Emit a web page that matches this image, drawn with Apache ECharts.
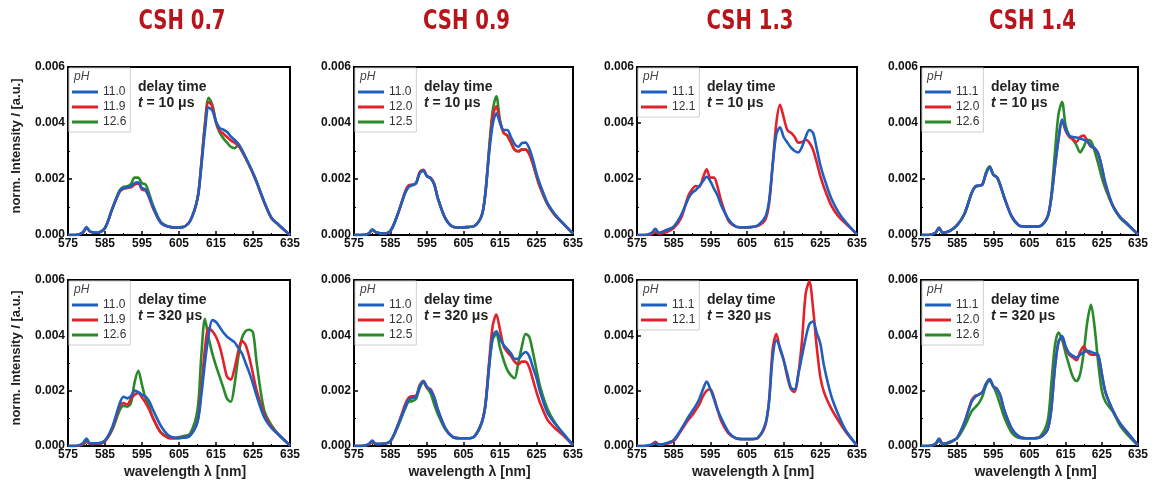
<!DOCTYPE html>
<html>
<head>
<meta charset="utf-8">
<title>CSH spectra</title>
<script src="https://cdn.jsdelivr.net/npm/echarts@6/dist/echarts.min.js"></script>
<style>
  html, body { margin: 0; padding: 0; background: #fff; }
  #chart { width: 1157px; height: 486px; }
</style>
</head>
<body>
<div id="chart"></div>
<script>
// wavelength grid (nm), intensities below are in units of 1e-3
const wavelength = [575, 577, 579, 580, 581, 583, 585,
  587, 589, 590, 591, 592, 593, 594, 595, 596, 597, 598,
  600, 602, 604, 606, 608,
  610, 611, 612, 613, 614, 615, 616, 617, 618, 619,
  620, 621, 622, 623, 624, 625, 626,
  628, 630, 632, 635]

const csh07_t10_ph110 = [0, 0, 0.1, 0.28, 0.12, 0.08, 0.25,
  0.95, 1.58, 1.68, 1.7, 1.74, 1.85, 1.88, 1.68, 1.62, 1.35, 1.0,
  0.45, 0.3, 0.27, 0.28, 0.5,
  1.3, 2.4, 3.7, 4.55, 4.45, 4.05, 3.82, 3.76, 3.68, 3.52,
  3.4, 3.27, 3.05, 2.78, 2.5, 2.22, 1.9,
  1.2, 0.62, 0.36, 0]
const csh07_t10_ph119 = [0, 0, 0.08, 0.26, 0.12, 0.08, 0.25,
  0.95, 1.55, 1.65, 1.68, 1.7, 1.8, 1.84, 1.62, 1.58, 1.3, 0.95,
  0.45, 0.3, 0.27, 0.28, 0.5,
  1.3, 2.5, 3.9, 4.75, 4.6, 4.05, 3.72, 3.62, 3.5, 3.38,
  3.3, 3.2, 3.0, 2.75, 2.48, 2.2, 1.88,
  1.18, 0.6, 0.35, 0]
const csh07_t10_ph126 = [0, 0, 0.08, 0.25, 0.12, 0.08, 0.25,
  0.95, 1.6, 1.72, 1.74, 1.82, 2.05, 2.05, 1.85, 1.8, 1.45, 1.05,
  0.48, 0.3, 0.27, 0.28, 0.5,
  1.3, 2.5, 3.95, 4.9, 4.65, 4.0, 3.65, 3.45, 3.3, 3.15,
  3.1, 3.2, 3.0, 2.75, 2.48, 2.2, 1.88,
  1.18, 0.6, 0.35, 0]

const csh09_t10_ph110 = [0, 0, 0.05, 0.2, 0.1, 0.05, 0.15,
  0.75, 1.5, 1.72, 1.78, 1.85, 2.2, 2.3, 2.1, 2.02, 1.8, 1.3,
  0.6, 0.3, 0.27, 0.28, 0.32,
  0.7, 1.5, 2.9, 3.95, 4.35, 4.0, 3.75, 3.75, 3.5, 3.25,
  3.15, 3.28, 3.3, 3.1, 2.7, 2.2, 1.8,
  1.15, 0.75, 0.45, 0.05]
const csh09_t10_ph120 = [0, 0, 0.05, 0.18, 0.1, 0.05, 0.15,
  0.75, 1.55, 1.78, 1.8, 1.85, 2.25, 2.33, 2.1, 2.05, 1.82, 1.3,
  0.6, 0.3, 0.27, 0.28, 0.32,
  0.7, 1.5, 3.0, 4.25, 4.6, 4.05, 3.65, 3.55, 3.3, 3.05,
  2.98, 3.05, 3.05, 2.9, 2.55, 2.1, 1.7,
  1.1, 0.72, 0.45, 0.05]
const csh09_t10_ph125 = [0, 0, 0.05, 0.18, 0.1, 0.05, 0.15,
  0.75, 1.5, 1.75, 1.78, 1.85, 2.22, 2.3, 2.1, 2.02, 1.8, 1.3,
  0.6, 0.3, 0.27, 0.28, 0.32,
  0.7, 1.5, 3.05, 4.45, 4.95, 4.1, 3.65, 3.55, 3.3, 3.05,
  3.0, 3.05, 3.05, 2.9, 2.55, 2.1, 1.7,
  1.1, 0.72, 0.45, 0.05]

const csh13_t10_ph111 = [0, 0, 0.08, 0.22, 0.08, 0.18, 0.3,
  0.7, 1.3, 1.5, 1.6, 1.75, 1.92, 2.08, 1.92, 1.65, 1.4, 1.05,
  0.55, 0.3, 0.27, 0.28, 0.35,
  0.65, 1.2, 2.5, 3.6, 3.85, 3.5, 3.3, 3.12, 3.0, 2.95,
  3.15, 3.5, 3.75, 3.65, 3.1, 2.5, 2.05,
  1.3, 0.8, 0.45, 0.02]
const csh13_t10_ph121 = [0, 0, 0.03, 0.1, 0.05, 0.1, 0.25,
  0.6, 1.4, 1.62, 1.75, 1.72, 2.05, 2.35, 2.05, 2.05, 1.7, 1.2,
  0.5, 0.3, 0.27, 0.28, 0.33,
  0.55, 1.1, 2.5, 4.0, 4.65, 4.2, 3.75, 3.65, 3.5, 3.3,
  3.32, 3.4, 3.3, 3.05, 2.6, 2.1, 1.7,
  1.05, 0.65, 0.4, 0.02]

const csh14_t10_ph111 = [0, 0, 0.08, 0.26, 0.08, 0.15, 0.35,
  0.75, 1.5, 1.73, 1.76, 1.8, 2.2, 2.42, 2.15, 2.06, 1.75, 1.35,
  0.68, 0.35, 0.3, 0.3, 0.32,
  0.65, 1.3, 2.4, 3.4, 4.12, 3.75, 3.55, 3.5, 3.48, 3.45,
  3.4, 3.35, 3.18, 3.1, 2.9, 2.42, 1.85,
  1.05, 0.65, 0.4, 0.02]
const csh14_t10_ph120 = [0, 0, 0.08, 0.26, 0.08, 0.15, 0.35,
  0.75, 1.5, 1.73, 1.76, 1.8, 2.2, 2.42, 2.15, 2.06, 1.75, 1.35,
  0.68, 0.35, 0.3, 0.3, 0.32,
  0.65, 1.3, 2.4, 3.4, 4.1, 3.72, 3.5, 3.42, 3.32, 3.5,
  3.55, 3.35, 3.15, 3.1, 2.9, 2.42, 1.8,
  1.05, 0.65, 0.4, 0.02]
const csh14_t10_ph126 = [0, 0, 0.08, 0.26, 0.08, 0.15, 0.35,
  0.75, 1.5, 1.73, 1.76, 1.82, 2.25, 2.45, 2.15, 2.06, 1.75, 1.35,
  0.68, 0.35, 0.3, 0.3, 0.32,
  0.65, 1.4, 2.9, 4.3, 4.75, 3.9, 3.55, 3.4, 3.2, 2.95,
  3.15, 3.4, 3.35, 3.0, 2.55, 2.05, 1.65,
  1.05, 0.62, 0.38, 0.02]

const csh07_t320_ph110 = [0, 0, 0.1, 0.27, 0.1, 0.1, 0.2,
  0.7, 1.55, 1.78, 1.72, 1.8, 2.0, 1.95, 1.85, 1.78, 1.6, 1.3,
  0.75, 0.4, 0.3, 0.3, 0.38,
  0.87, 1.8, 3.0, 4.0, 4.55, 4.48, 4.3, 4.1, 3.95, 3.85,
  3.75, 3.55, 3.35, 3.0, 2.65, 2.25, 1.8,
  1.05, 0.65, 0.4, 0.02]
const csh07_t320_ph119 = [0, 0, 0.07, 0.2, 0.08, 0.08, 0.18,
  0.65, 1.45, 1.55, 1.5, 1.7, 1.85, 1.92, 1.75, 1.55, 1.3, 1.0,
  0.5, 0.3, 0.27, 0.3, 0.38,
  0.9, 2.0, 3.5, 4.25, 4.15, 3.95, 3.6, 3.05, 2.5, 2.4,
  2.8, 3.4, 3.8, 3.65, 3.2, 2.6, 2.0,
  1.15, 0.7, 0.4, 0.02]
const csh07_t320_ph126 = [0, 0, 0.05, 0.15, 0.07, 0.08, 0.18,
  0.6, 1.3, 1.45, 1.42, 1.55, 2.3, 2.72, 2.2, 1.7, 1.4, 1.0,
  0.5, 0.33, 0.3, 0.35, 0.45,
  1.3, 3.2, 4.6, 3.9, 3.35, 2.9, 2.5, 2.1, 1.7, 1.6,
  2.2, 3.2, 3.9, 4.15, 4.2, 4.1, 3.0,
  1.3, 0.75, 0.4, 0.02]

const csh09_t320_ph110 = [0, 0, 0.07, 0.2, 0.08, 0.08, 0.18,
  0.75, 1.4, 1.68, 1.73, 1.78, 2.15, 2.35, 2.15, 2.0, 1.75, 1.3,
  0.65, 0.33, 0.28, 0.28, 0.35,
  0.85, 1.45, 2.8, 3.95, 4.15, 3.88, 3.65, 3.5, 3.35, 3.15,
  3.15, 3.3, 3.4, 3.25, 2.85, 2.45, 1.95,
  1.2, 0.82, 0.5, 0.03]
const csh09_t320_ph120 = [0, 0, 0.05, 0.15, 0.07, 0.08, 0.18,
  0.75, 1.5, 1.75, 1.8, 1.82, 2.2, 2.35, 2.1, 2.05, 1.75, 1.3,
  0.65, 0.33, 0.28, 0.28, 0.35,
  0.85, 1.5, 3.0, 4.35, 4.75, 4.2, 3.6, 3.4, 3.25, 3.05,
  2.95, 3.05, 3.05, 2.85, 2.4, 1.95, 1.55,
  0.95, 0.65, 0.42, 0.03]
const csh09_t320_ph125 = [0, 0, 0.05, 0.15, 0.07, 0.08, 0.18,
  0.7, 1.35, 1.6, 1.62, 1.7, 2.1, 2.3, 2.1, 1.9, 1.5, 1.15,
  0.6, 0.33, 0.28, 0.28, 0.35,
  0.85, 1.5, 2.9, 3.85, 4.05, 3.55, 3.1, 2.75, 2.55, 2.45,
  3.0, 3.6, 4.05, 3.95, 3.4, 2.75, 2.15,
  1.35, 0.85, 0.5, 0.03]

const csh13_t320_ph111 = [0, 0, 0.05, 0.1, 0.05, 0.1, 0.22,
  0.6, 1.05, 1.25, 1.45, 1.7, 2.05, 2.33, 2.05, 1.7, 1.3, 1.0,
  0.5, 0.28, 0.25, 0.25, 0.3,
  0.8, 1.6, 3.2, 3.82, 3.55, 3.1, 2.6, 2.1, 2.05, 2.6,
  3.25, 3.9, 4.4, 4.5, 4.1, 3.7, 2.9,
  1.8, 1.1, 0.55, 0.02]
const csh13_t320_ph121 = [0, 0, 0.05, 0.15, 0.05, 0.08, 0.18,
  0.55, 0.95, 1.1, 1.3, 1.5, 1.8, 2.0, 2.05, 1.75, 1.3, 0.9,
  0.45, 0.28, 0.25, 0.25, 0.3,
  0.75, 1.6, 3.5, 4.05, 3.5, 3.1, 2.5, 2.05, 1.95, 2.6,
  3.8, 5.5, 5.95, 5.0, 3.6, 2.5, 1.95,
  1.35, 0.9, 0.5, 0.02]

const csh14_t320_ph111 = [0, 0, 0.08, 0.27, 0.08, 0.15, 0.3,
  0.85, 1.6, 1.78, 1.86, 1.95, 2.25, 2.42, 2.15, 2.06, 1.8, 1.3,
  0.65, 0.35, 0.28, 0.28, 0.32,
  0.6, 1.3, 2.8, 3.75, 3.97, 3.6, 3.35, 3.26, 3.2, 3.3,
  3.38, 3.44, 3.4, 3.35, 3.3, 2.6, 1.95,
  1.3, 0.82, 0.5, 0.02]
const csh14_t320_ph120 = [0, 0, 0.08, 0.25, 0.08, 0.15, 0.3,
  0.85, 1.65, 1.82, 1.86, 1.95, 2.25, 2.4, 2.15, 2.06, 1.8, 1.3,
  0.65, 0.35, 0.28, 0.28, 0.32,
  0.6, 1.3, 2.8, 3.75, 3.95, 3.55, 3.3, 3.2, 3.1, 3.4,
  3.6, 3.4, 3.3, 3.3, 3.25, 2.6, 1.95,
  1.3, 0.82, 0.5, 0.02]
const csh14_t320_ph126 = [0, 0, 0.06, 0.2, 0.06, 0.12, 0.28,
  0.7, 1.25, 1.4, 1.55, 1.8, 2.2, 2.35, 2.15, 1.85, 1.45, 1.05,
  0.5, 0.3, 0.28, 0.28, 0.35,
  0.9, 2.2, 3.6, 4.1, 3.85, 3.35, 2.9, 2.5, 2.35, 2.6,
  3.4, 4.5, 5.1, 4.3, 3.0, 2.0, 1.6,
  1.25, 0.75, 0.42, 0.02]

const sampleTitles = ['CSH 0.7', 'CSH 0.9', 'CSH 1.3', 'CSH 1.4']
const delayTimes = ['10', '320']

const panels = [
  { col: 0, row: 0, names: ['11.0', '11.9', '12.6'], values: [csh07_t10_ph110, csh07_t10_ph119, csh07_t10_ph126] },
  { col: 1, row: 0, names: ['11.0', '12.0', '12.5'], values: [csh09_t10_ph110, csh09_t10_ph120, csh09_t10_ph125] },
  { col: 2, row: 0, names: ['11.1', '12.1'], values: [csh13_t10_ph111, csh13_t10_ph121] },
  { col: 3, row: 0, names: ['11.1', '12.0', '12.6'], values: [csh14_t10_ph111, csh14_t10_ph120, csh14_t10_ph126] },
  { col: 0, row: 1, names: ['11.0', '11.9', '12.6'], values: [csh07_t320_ph110, csh07_t320_ph119, csh07_t320_ph126] },
  { col: 1, row: 1, names: ['11.0', '12.0', '12.5'], values: [csh09_t320_ph110, csh09_t320_ph120, csh09_t320_ph125] },
  { col: 2, row: 1, names: ['11.1', '12.1'], values: [csh13_t320_ph111, csh13_t320_ph121] },
  { col: 3, row: 1, names: ['11.1', '12.0', '12.6'], values: [csh14_t320_ph111, csh14_t320_ph120, csh14_t320_ph126] }
]

// layout
const cols = [{ left: 68, width: 222 }, { left: 354, width: 219 }, { left: 637, width: 220 }, { left: 921, width: 217 }]
const rows = [{ top: 67, height: 168 }, { top: 280, height: 166 }]
const lineColors = ['#1f5fbf', '#e3212b', '#2a8a2a']
const FONT = "'Liberation Sans', Arial, sans-serif"

const chart = echarts.init(document.getElementById('chart'))

const grids = []
const xAxes = []
const yAxes = []
const series = []
const legends = []
const graphics = []

panels.forEach((p, i) => {
  const c = cols[p.col]
  const r = rows[p.row]
  grids.push({
    left: c.left, top: r.top, width: c.width, height: r.height,
    show: true, borderColor: '#000', borderWidth: 2
  })
  xAxes.push({
    type: 'value', gridIndex: i, min: 575, max: 635, interval: 10,
    axisLine: { show: true, onZero: false, lineStyle: { color: '#000', width: 2 } },
    axisTick: { show: true, inside: true, length: 4, lineStyle: { color: '#000', width: 1.5 } },
    minorTick: { show: true, splitNumber: 2, length: 2, lineStyle: { color: '#000' } },
    axisLabel: { color: '#111', fontWeight: 'bold', fontSize: 12, margin: 3, fontFamily: FONT },
    splitLine: { show: false }
  })
  yAxes.push({
    type: 'value', gridIndex: i, min: 0, max: 0.006, interval: 0.002,
    axisLine: { show: true, lineStyle: { color: '#000', width: 2 } },
    axisTick: { show: true, inside: true, length: 4, lineStyle: { color: '#000', width: 1.5 } },
    minorTick: { show: true, splitNumber: 2, length: 2, lineStyle: { color: '#000' } },
    axisLabel: {
      color: '#111', fontWeight: 'bold', fontSize: 12, margin: 3, fontFamily: FONT,
      formatter: v => v.toFixed(3)
    },
    splitLine: { show: false }
  })
  // draw the last pH first so the blue curve lies on top
  for (let k = p.names.length - 1; k >= 0; k--) {
    const vals = p.values[k]
    series.push({
      type: 'line',
      name: p.names[k],
      xAxisIndex: i,
      yAxisIndex: i,
      data: wavelength.map((w, j) => [w, vals[j] / 1000]),
      symbol: 'none',
      smooth: 0.3,
      color: lineColors[k],
      lineStyle: { color: lineColors[k], width: 2.6 },
      emphasis: { disabled: true }
    })
  }
  legends.push({
    left: c.left + 1, top: r.top + 1,
    orient: 'vertical',
    data: p.names,
    icon: 'rect',
    itemWidth: 26, itemHeight: 3, itemGap: 1,
    padding: [17, 4, 3, 3],
    borderColor: '#cfcfcf', borderWidth: 1, backgroundColor: '#fff',
    selectedMode: false,
    textStyle: { fontSize: 12, color: '#333', fontFamily: FONT, lineHeight: 14 }
  })
  graphics.push({
    type: 'text', x: c.left + 6, y: r.top + 10, z: 100,
    style: { text: 'pH', font: "italic 12px 'Liberation Sans', Arial, sans-serif", fill: '#444', verticalAlign: 'middle' }
  })
  graphics.push({
    type: 'text', x: c.left + 70, y: r.top + 20, z: 100,
    style: { text: 'delay time', font: "bold 14px 'Liberation Sans', Arial, sans-serif", fill: '#222', verticalAlign: 'middle' }
  })
  graphics.push({
    type: 'text', x: c.left + 70, y: r.top + 36, z: 100,
    style: {
      text: '{i|t}{b| = ' + delayTimes[p.row] + ' μs}',
      verticalAlign: 'middle',
      rich: {
        i: { fontStyle: 'italic', fontWeight: 'bold', fontSize: 14, fontFamily: FONT, fill: '#222' },
        b: { fontWeight: 'bold', fontSize: 14, fontFamily: FONT, fill: '#222' }
      }
    }
  })
})

// column titles and x axis names
sampleTitles.forEach((t, k) => {
  const c = cols[k]
  graphics.push({
    type: 'text', x: c.left + c.width / 2 + 3, y: 22, scaleX: 0.84,
    style: {
      text: t, fill: '#b8141c', align: 'center', verticalAlign: 'middle',
      font: "bold 26px 'Liberation Sans Narrow', 'DejaVu Sans Condensed', sans-serif"
    }
  })
  graphics.push({
    type: 'text', x: c.left + c.width / 2 + 6, y: 472,
    style: {
      text: 'wavelength λ [nm]', fill: '#222', align: 'center', verticalAlign: 'middle',
      font: "bold 14px 'Liberation Sans', Arial, sans-serif"
    }
  })
})

// y axis titles for the left column
rows.forEach(r => {
  graphics.push({
    type: 'text', x: 16, y: r.top + r.height / 2 - 5, rotation: Math.PI / 2,
    style: {
      text: '{b|norm. Intensity }{i|I}{b| [a.u.]}',
      align: 'center', verticalAlign: 'middle',
      rich: {
        b: { fontWeight: 'bold', fontSize: 13, fontFamily: FONT, fill: '#222' },
        i: { fontWeight: 'bold', fontStyle: 'italic', fontSize: 13, fontFamily: FONT, fill: '#222' }
      }
    }
  })
})

chart.setOption({
  animation: false,
  backgroundColor: '#fff',
  grid: grids,
  xAxis: xAxes,
  yAxis: yAxes,
  legend: legends,
  series: series,
  graphic: graphics
})
</script>
</body>
</html>
